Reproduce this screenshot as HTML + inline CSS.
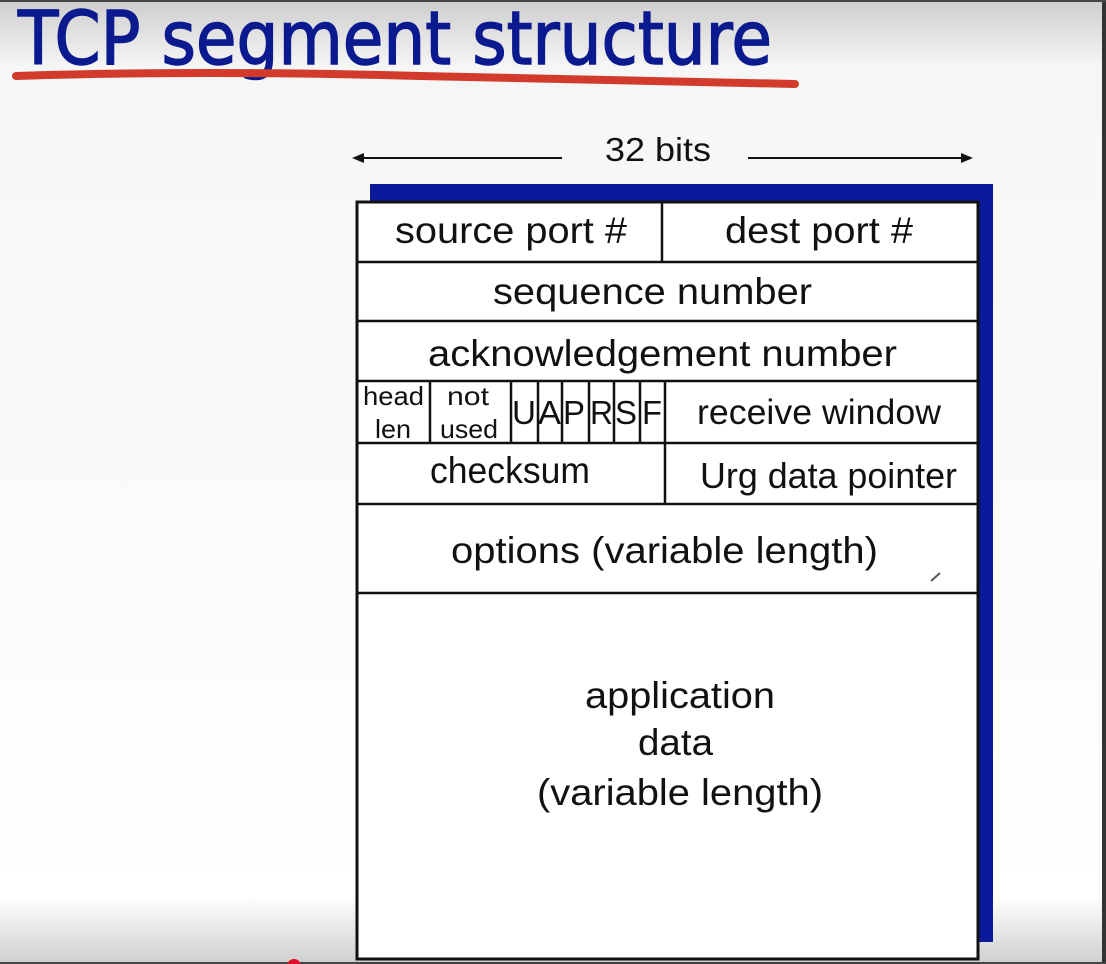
<!DOCTYPE html>
<html><head><meta charset="utf-8"><style>
html,body{margin:0;padding:0;}
body{width:1106px;height:964px;overflow:hidden;background:#fff;}
svg{display:block;}
text{font-family:"Liberation Sans",Arial,sans-serif;fill:#111;}
</style></head><body>
<svg width="1106" height="964" viewBox="0 0 1106 964" xmlns="http://www.w3.org/2000/svg">
<defs>
<linearGradient id="bg" x1="0" y1="0" x2="0" y2="1">
<stop offset="0" stop-color="#cdcdcd"/>
<stop offset="0.07" stop-color="#f6f6f6"/>
<stop offset="0.93" stop-color="#ffffff"/>
<stop offset="1" stop-color="#cfcfcf"/>
</linearGradient>
</defs>
<rect x="0" y="0" width="1106" height="964" fill="url(#bg)"/>
<rect x="1102" y="0" width="4" height="964" fill="#333"/>
<rect x="0" y="0" width="1106" height="2" fill="#444"/>
<rect x="0" y="962" width="1106" height="2" fill="#444"/>

<text x="18" y="64" font-size="74" textLength="754" lengthAdjust="spacingAndGlyphs" style="fill:#0b1a8e;font-family:'DejaVu Sans','Liberation Sans',sans-serif;stroke:#0b1a8e;stroke-width:1.5">TCP segment structure</text>
<path d="M16 76 Q200 70 420 76 Q620 80 795 84" stroke="#d23b2b" stroke-width="8" fill="none" stroke-linecap="round"/>

<line x1="360" y1="158" x2="562" y2="158" stroke="#111" stroke-width="2"/>
<polygon points="352,158 364,153 364,163" fill="#111"/>
<line x1="748" y1="158" x2="962" y2="158" stroke="#111" stroke-width="2"/>
<polygon points="973,158 961,153 961,163" fill="#111"/>
<text x="605" y="161" font-size="33" textLength="106" lengthAdjust="spacingAndGlyphs">32 bits</text>

<rect x="370" y="184" width="623" height="758" fill="#0a1a9a"/>
<rect x="357" y="202" width="621" height="757" fill="#fff" stroke="#111" stroke-width="3"/>
<g stroke="#111" stroke-width="2.5">
<line x1="357" y1="262" x2="978" y2="262"/>
<line x1="357" y1="321" x2="978" y2="321"/>
<line x1="357" y1="381" x2="978" y2="381"/>
<line x1="357" y1="443" x2="978" y2="443"/>
<line x1="357" y1="504" x2="978" y2="504"/>
<line x1="357" y1="593" x2="978" y2="593"/>
<line x1="662" y1="202" x2="662" y2="262"/>
<line x1="665" y1="381" x2="665" y2="504"/>
<line x1="430" y1="381" x2="430" y2="443"/>
<line x1="511" y1="381" x2="511" y2="443"/>
<line x1="538" y1="381" x2="538" y2="443"/>
<line x1="562" y1="381" x2="562" y2="443"/>
<line x1="589" y1="381" x2="589" y2="443"/>
<line x1="614" y1="381" x2="614" y2="443"/>
<line x1="640" y1="381" x2="640" y2="443"/>
</g>

<text x="395" y="243" font-size="37" textLength="232" lengthAdjust="spacingAndGlyphs">source port #</text>
<text x="725" y="243" font-size="37" textLength="188" lengthAdjust="spacingAndGlyphs">dest port #</text>
<text x="493" y="304" font-size="37" textLength="319" lengthAdjust="spacingAndGlyphs">sequence number</text>
<text x="428" y="366" font-size="37" textLength="469" lengthAdjust="spacingAndGlyphs">acknowledgement number</text>
<text x="363" y="405" font-size="26" textLength="61" lengthAdjust="spacingAndGlyphs">head</text>
<text x="375" y="438" font-size="26" textLength="36" lengthAdjust="spacingAndGlyphs">len</text>
<text x="447" y="405" font-size="26" textLength="42" lengthAdjust="spacingAndGlyphs">not</text>
<text x="440" y="438" font-size="26" textLength="58" lengthAdjust="spacingAndGlyphs">used</text>
<g font-size="33">
<text x="512" y="424" textLength="24" lengthAdjust="spacingAndGlyphs">U</text>
<text x="538" y="424" textLength="23" lengthAdjust="spacingAndGlyphs">A</text>
<text x="563" y="424" textLength="22" lengthAdjust="spacingAndGlyphs">P</text>
<text x="590" y="424" textLength="23" lengthAdjust="spacingAndGlyphs">R</text>
<text x="615" y="424" textLength="22" lengthAdjust="spacingAndGlyphs">S</text>
<text x="642" y="424" textLength="20" lengthAdjust="spacingAndGlyphs">F</text>
</g>
<text x="697" y="424" font-size="35" textLength="244" lengthAdjust="spacingAndGlyphs">receive window</text>
<text x="430" y="483" font-size="37" textLength="160" lengthAdjust="spacingAndGlyphs">checksum</text>
<text x="700" y="488" font-size="36" textLength="257" lengthAdjust="spacingAndGlyphs">Urg data pointer</text>
<text x="451" y="563" font-size="37" textLength="427" lengthAdjust="spacingAndGlyphs">options (variable length)</text>
<text x="585" y="708" font-size="37" textLength="190" lengthAdjust="spacingAndGlyphs">application</text>
<text x="638" y="755" font-size="37" textLength="75" lengthAdjust="spacingAndGlyphs">data</text>
<text x="537" y="805" font-size="37" textLength="286" lengthAdjust="spacingAndGlyphs">(variable length)</text>
<path d="M931 581 L940 573" stroke="#555" stroke-width="2"/>
<circle cx="294" cy="966" r="7" fill="#e0102a"/>
</svg>
</body></html>
